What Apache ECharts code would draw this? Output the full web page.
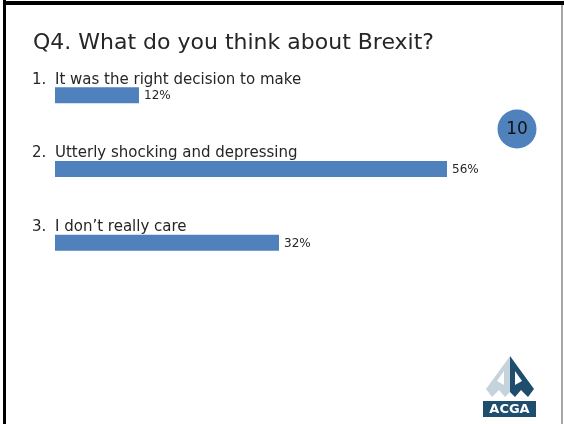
<!DOCTYPE html>
<html>
<head>
<meta charset="utf-8">
<script src="https://cdn.jsdelivr.net/npm/echarts@6/dist/echarts.min.js"></script>
<style>
  html, body { margin: 0; padding: 0; background: #ffffff; }
  #chart { width: 564px; height: 424px; }
</style>
</head>
<body>
<div id="chart"></div>
<script>
// Survey question and answers
const questionTitle = 'Q4. What do you think about Brexit?';
const answerNumbers = ['1.', '2.', '3.'];
const answerTexts = [
  'It was the right decision to make',
  'Utterly shocking and depressing',
  'I don\u2019t really care'
];
const answerShares = [12, 56, 32];   // percent of respondents
const responseCount = '10';

const FONT = '"DejaVu Sans", "Noto Sans", sans-serif';
const TEXT = '#262626';
const BLUE = '#4f81bd';
const NAVY = '#1e4d6e';

const chart = echarts.init(document.getElementById('chart'), null, { renderer: 'canvas' });

chart.setOption({
  animation: false,
  backgroundColor: '#ffffff',
  title: {
    text: questionTitle,
    left: 28,
    top: 27,
    textStyle: { fontFamily: FONT, fontSize: 22, fontWeight: 'normal', color: TEXT }
  },
  grid: { left: 55, width: 392, top: 58.5, height: 221 },
  xAxis: {
    type: 'value',
    min: 0,
    max: 56,
    show: false
  },
  yAxis: {
    type: 'category',
    inverse: true,
    data: answerTexts,
    axisLine: { show: false },
    axisTick: { show: false },
    splitLine: { show: false },
    axisLabel: {
      align: 'left',
      verticalAlign: 'bottom',
      margin: 23,
      padding: [0, 0, 8, 0],
      formatter: (value, idx) => '{n|' + answerNumbers[idx] + '}{t|' + value + '}',
      rich: {
        n: { width: 23, fontFamily: FONT, fontSize: 15, color: TEXT },
        t: { fontFamily: FONT, fontSize: 15, color: TEXT }
      }
    }
  },
  series: [{
    type: 'bar',
    data: answerShares,
    barWidth: 16,
    itemStyle: { color: BLUE },
    label: {
      show: true,
      position: 'right',
      distance: 5,
      offset: [0, 1],
      formatter: '{c}%',
      fontFamily: FONT,
      fontSize: 12,
      color: TEXT
    }
  }],
  graphic: [
    // slide frame
    { type: 'rect', shape: { x: 3, y: 0, width: 3, height: 424 }, style: { fill: '#000' }, silent: true },
    { type: 'rect', shape: { x: 3, y: 1, width: 561, height: 4 }, style: { fill: '#000' }, silent: true },
    { type: 'rect', shape: { x: 561, y: 5, width: 2, height: 419 }, style: { fill: '#a6a6a6' }, silent: true },
    // response counter badge
    { type: 'circle', shape: { cx: 517, cy: 129, r: 19.5 }, style: { fill: BLUE }, silent: true },
    { type: 'text', x: 517, y: 130, style: { text: responseCount, fill: '#111', font: '17px ' + FONT, align: 'center', verticalAlign: 'middle' }, silent: true },
    // ACGA logo
    { type: 'polygon', shape: { points: [[510, 356], [486, 389], [492, 397], [499, 390], [505, 397], [510, 392]] }, style: { fill: '#c5d3dc' }, silent: true },
    { type: 'polygon', shape: { points: [[510, 356], [534, 389], [528, 397], [521, 390], [515, 397], [510, 392]] }, style: { fill: NAVY }, silent: true },
    { type: 'polygon', shape: { points: [[497, 381], [504, 371], [504, 385]] }, style: { fill: '#ffffff' }, silent: true },
    { type: 'polygon', shape: { points: [[515, 371], [522, 381], [515, 385]] }, style: { fill: '#ffffff' }, silent: true },
    { type: 'rect', shape: { x: 483, y: 401, width: 53, height: 16 }, style: { fill: NAVY }, silent: true },
    { type: 'text', x: 509.5, y: 409.5, style: { text: 'ACGA', fill: '#ffffff', font: 'bold 13px ' + FONT, align: 'center', verticalAlign: 'middle' }, silent: true }
  ]
});
</script>
</body>
</html>
